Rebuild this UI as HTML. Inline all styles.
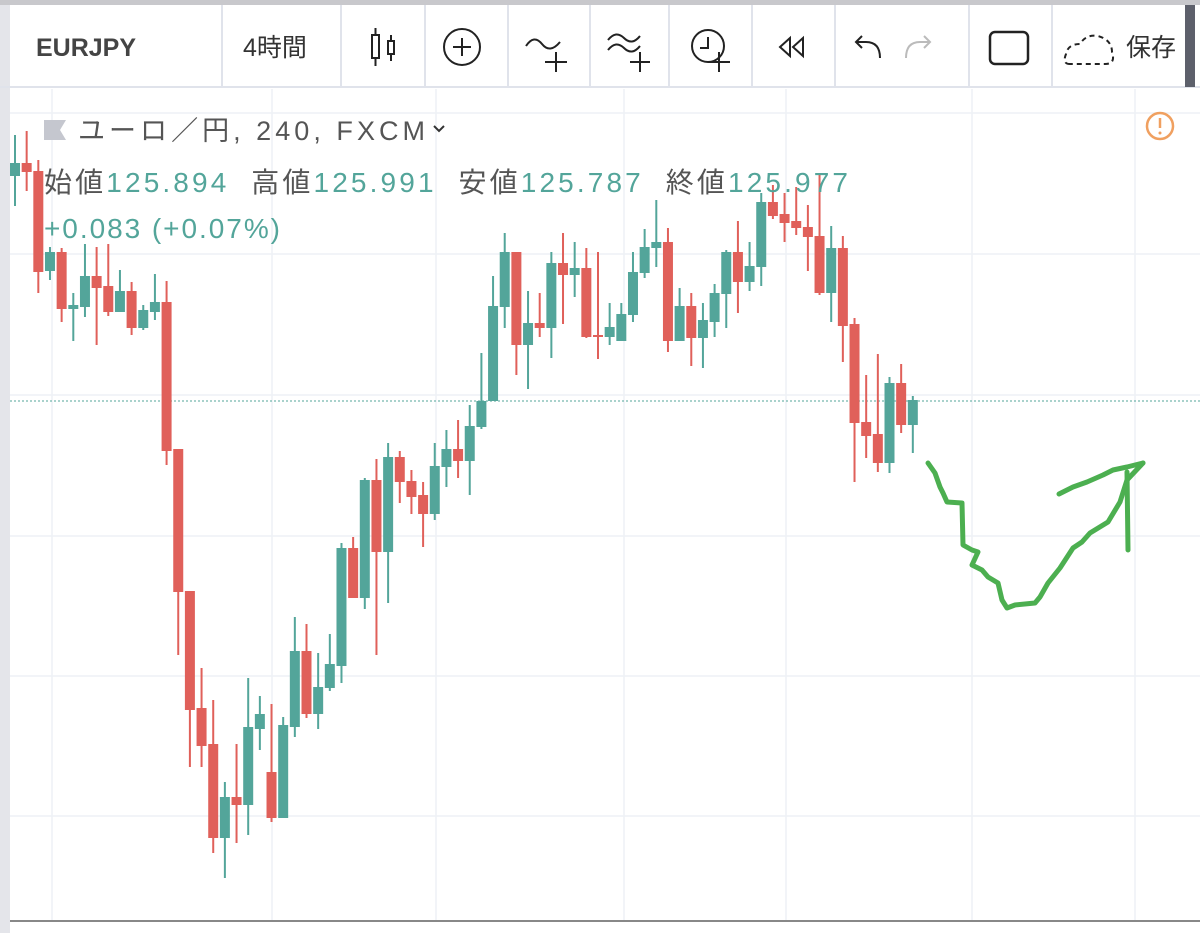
<!DOCTYPE html>
<html><head><meta charset="utf-8"><style>
html,body{margin:0;padding:0;background:#fff;}
body{width:1200px;height:933px;overflow:hidden;position:relative;font-family:"Liberation Sans","Noto Sans CJK JP",sans-serif;}
</style></head><body>
<svg width="1200" height="933" viewBox="0 0 1200 933" xmlns="http://www.w3.org/2000/svg" style="position:absolute;left:0;top:0">
<rect x="0" y="0" width="1200" height="5" fill="#c8c8cc"/>
<rect x="0" y="5" width="10" height="928" fill="#e4e5ea"/>
<line x1="0" y1="87" x2="1200" y2="87" stroke="#e0e3eb" stroke-width="2"/>
<g stroke="#e0e3eb" stroke-width="2">
<line x1="222" y1="5" x2="222" y2="86"/><line x1="341" y1="5" x2="341" y2="86"/><line x1="425" y1="5" x2="425" y2="86"/><line x1="508" y1="5" x2="508" y2="86"/><line x1="590" y1="5" x2="590" y2="86"/><line x1="669" y1="5" x2="669" y2="86"/><line x1="752" y1="5" x2="752" y2="86"/><line x1="835" y1="5" x2="835" y2="86"/><line x1="969" y1="5" x2="969" y2="86"/><line x1="1052" y1="5" x2="1052" y2="86"/>
</g>
<rect x="1185" y="5" width="10" height="82" fill="#5d606b"/>
<text x="36" y="56" font-size="25" font-weight="bold" fill="#444">EURJPY</text>
<text x="243" y="56" font-size="25" fill="#333">4時間</text>
<g stroke="#222" stroke-width="2" fill="none">
<rect x="372" y="35" width="7" height="23"/><line x1="375.5" y1="28" x2="375.5" y2="35"/><line x1="375.5" y1="58" x2="375.5" y2="66"/>
<rect x="388" y="41" width="6" height="13"/><line x1="391" y1="35" x2="391" y2="41"/><line x1="391" y1="54" x2="391" y2="61"/>
<circle cx="462" cy="47" r="18"/><line x1="453" y1="47" x2="471" y2="47"/><line x1="462" y1="38" x2="462" y2="56"/>
<path d="M526 46 Q534 34 542 44 Q550 54 560 42"/><line x1="545" y1="62" x2="567" y2="62"/><line x1="556" y1="52" x2="556" y2="72"/>
<path d="M608 40 Q616 30 624 38 Q632 46 640 36"/><path d="M608 50 Q616 40 624 48 Q632 56 640 46"/><line x1="630" y1="62" x2="650" y2="62"/><line x1="640" y1="52" x2="640" y2="72"/>
<circle cx="708" cy="46" r="16"/><path d="M708 37 L708 48 L700 48"/><line x1="708" y1="62" x2="730" y2="62"/><line x1="719" y1="52" x2="719" y2="72"/>
<path d="M790 38 L780 47 L790 56 Z M803 38 L793 47 L803 56 Z"/>
<path d="M880 58 Q880 42 866 42 L856 42 M862 36 L856 42 L862 48"/>
<rect x="990" y="32" width="38" height="32" rx="5" stroke-width="2.5"/>
<path d="M1070 64 Q1062 64 1066 54 Q1068 44 1080 44 Q1086 34 1098 36 Q1112 40 1112 52 Q1116 64 1105 64 Z" stroke-dasharray="5 4"/>
</g>
<path d="M940 58 Q940 42 926 42 L916 42 M922 36 L916 42 L922 48" stroke="#bbb" stroke-width="2" fill="none" transform="translate(1846,0) scale(-1,1)"/>
<text x="1126" y="56" font-size="25" fill="#333">保存</text>
<g stroke="#eef1f5" stroke-width="1.5">
<line x1="52" y1="89" x2="52" y2="921"/><line x1="272" y1="89" x2="272" y2="921"/><line x1="436" y1="89" x2="436" y2="921"/><line x1="624" y1="89" x2="624" y2="921"/><line x1="786" y1="89" x2="786" y2="921"/><line x1="972" y1="89" x2="972" y2="921"/><line x1="1135" y1="89" x2="1135" y2="921"/>
<line x1="10" y1="113" x2="1200" y2="113"/><line x1="10" y1="254" x2="1200" y2="254"/><line x1="10" y1="395" x2="1200" y2="395"/><line x1="10" y1="536" x2="1200" y2="536"/><line x1="10" y1="676" x2="1200" y2="676"/><line x1="10" y1="816" x2="1200" y2="816"/>
</g>
<line x1="10" y1="401" x2="1200" y2="401" stroke="#53a59a" stroke-width="1" stroke-dasharray="2 2"/>
<line x1="10" y1="921" x2="1200" y2="921" stroke="#888" stroke-width="2"/>
<g id="candles"></g>
<path d="M44 120 L66 120 L60 130 L66 140 L44 140 Z" fill="#c5c7cf"/>
<text x="78" y="140" font-size="27" fill="#555" textLength="347" lengthAdjust="spacing">ユーロ／円, 240, FXCM</text>
<path d="M434 126 L439 131 L444 126" stroke="#333" stroke-width="2" fill="none"/>
<text x="44" y="192" font-size="28" fill="#555" textLength="804" lengthAdjust="spacing" xml:space="preserve">始値<tspan fill="#53a59a">125.894</tspan>  高値<tspan fill="#53a59a">125.991</tspan>  安値<tspan fill="#53a59a">125.787</tspan>  終値<tspan fill="#53a59a">125.977</tspan></text>
<text x="44" y="238" font-size="28" fill="#53a59a" textLength="236" lengthAdjust="spacing">+0.083 (+0.07%)</text>
<circle cx="1160" cy="126" r="13" fill="none" stroke="#f0a060" stroke-width="2.5"/>
<line x1="1160" y1="118" x2="1160" y2="128" stroke="#f0a060" stroke-width="2.5"/><circle cx="1160" cy="133" r="1.5" fill="#f0a060"/>
<g stroke="#4caf50" stroke-width="5" fill="none" stroke-linecap="round" stroke-linejoin="round">
<polyline points="928,463 935,473 940,487 943,493 947,502 962,503 963,545 972,550 978,552 972,565 982,570 988,577 998,583 1002,600 1007,608 1015,605 1035,603 1040,597 1048,583 1060,568 1073,548 1082,542 1090,533 1108,522 1120,502 1127,480 1143,463"/>
<polyline points="1059,494 1073,487 1087,482 1103,475 1113,470 1127,467 1143,463"/>
<polyline points="1128,550 1127,472"/>
</g>
</svg>
<script>
var d=[[1,135,163,176,206],[0,131,163,172,191],[0,160,171,272,293],[1,247,252,271,280],[0,248,252,309,322],[1,293,305,309,341],[1,244,276,307,317],[0,247,276,288,345],[0,244,286,312,316],[1,270,291,312,312],[0,282,291,328,335],[1,305,310,328,330],[1,274,302,312,320],[0,281,302,451,465],[0,449,449,592,655],[0,591,591,710,767],[0,668,708,746,767],[0,700,744,838,853],[1,782,797,838,878],[0,744,797,805,843],[1,678,727,805,835],[1,696,714,729,750],[0,704,772,818,822],[1,717,725,818,818],[1,617,651,727,737],[0,624,651,714,718],[1,653,687,714,729],[1,634,664,688,691],[1,543,548,666,683],[0,537,548,598,598],[1,478,480,598,609],[0,459,480,552,655],[1,443,457,552,603],[0,451,457,482,503],[0,470,481,497,514],[0,482,495,514,547],[1,443,466,514,520],[1,430,449,467,487],[0,420,449,461,478],[1,405,426,461,495],[1,353,401,427,429],[1,276,306,401,401],[1,233,252,307,328],[0,252,252,345,375],[1,291,323,345,389],[0,293,323,328,337],[1,252,263,328,358],[0,233,263,275,324],[1,242,268,275,297],[0,248,268,337,338],[0,252,335,337,359],[1,303,327,337,345],[1,303,314,341,341],[1,252,272,315,322],[1,229,247,273,278],[1,200,242,248,267],[0,228,242,341,352],[1,288,306,341,341],[0,293,306,338,366],[1,303,320,338,368],[1,284,293,322,337],[1,250,252,294,328],[0,221,252,282,313],[1,242,266,282,291],[1,193,202,267,286],[0,185,202,216,219],[0,193,214,223,242],[0,187,221,228,235],[0,205,227,237,271],[0,175,236,293,295],[1,226,248,293,322],[0,236,248,326,362],[0,318,324,423,482],[0,375,422,436,458],[0,354,434,463,472],[1,377,383,463,473],[0,364,383,425,433],[1,396,400,425,453]];
var s='';
d.forEach(function(c,i){var x=15+i*11.66;var col=c[0]?'#53a59a':'#e0605a';
s+='<line x1="'+x+'" y1="'+c[1]+'" x2="'+x+'" y2="'+c[4]+'" stroke="'+col+'" stroke-width="2"/>';
s+='<rect x="'+(x-5)+'" y="'+c[2]+'" width="10" height="'+Math.max(2,c[3]-c[2])+'" fill="'+col+'"/>';});
document.getElementById('candles').innerHTML=s;
</script>
</body></html>
